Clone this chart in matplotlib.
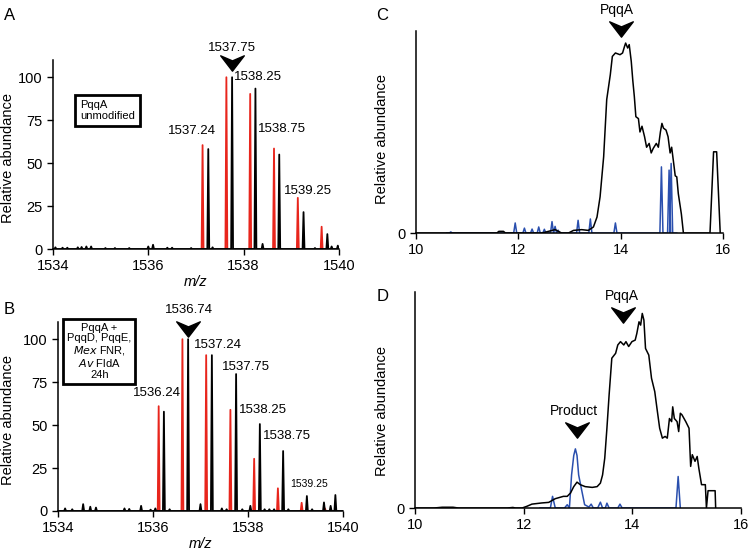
import numpy as np
import matplotlib
matplotlib.use('Agg')
import matplotlib.pyplot as plt
from matplotlib.path import Path

plt.rcParams['font.family'] = ['Liberation Sans', 'DejaVu Sans']
plt.rcParams['font.size'] = 10

RED = '#e8251c'
BLUE = '#2a4fae'

# ---- panel A: m/z peaks (unmodified PqqA)
a_red_mz = [1537.14, 1537.64, 1538.14, 1538.64, 1539.14, 1539.64]
a_red_int = [60.5, 100, 90.3, 58.5, 29.8, 13]
a_blk_mz = [1534.05, 1534.2, 1534.3, 1534.52, 1534.6, 1534.7, 1534.8, 1535.1, 1535.3,
            1535.6, 1536.0, 1536.1, 1536.4, 1536.5, 1536.9, 1537.26, 1537.35, 1537.76,
            1538.25, 1538.4, 1538.75, 1539.26, 1539.5, 1539.76, 1539.85, 1539.98]
a_blk_int = [1, 0.8, 0.8, 1, 1.2, 1.5, 1.5, 0.6, 0.6,
             0.6, 1.5, 2.5, 0.8, 0.8, 0.6, 58.2, 1, 100,
             93.4, 3, 55, 21.5, 0.6, 8.7, 1.5, 2]
a_labels = ['1537.24', '1537.75', '1538.25', '1538.75', '1539.25']

# ---- panel B: m/z peaks (PqqA + PqqD, PqqE, Mex FNR, Av FldA 24h)
b_red_mz = [1536.12, 1536.62, 1537.12, 1537.63, 1538.13, 1538.63, 1539.13, 1539.62]
b_red_int = [61, 100, 90.7, 58.9, 30.4, 13.2, 4.8, 1.5]
b_blk_mz = [1534.15, 1534.3, 1534.53, 1534.68, 1534.8, 1535.4, 1535.5, 1535.75, 1535.95,
            1536.05, 1536.23, 1536.35, 1536.74, 1537.0, 1537.24, 1537.45, 1537.55, 1537.75,
            1537.88, 1538.05, 1538.25, 1538.35, 1538.45, 1538.55, 1538.74, 1538.85, 1539.24,
            1539.35, 1539.6, 1539.74, 1539.84]
b_blk_int = [1.5, 1, 4, 2.5, 2, 1.5, 1.2, 3, 0.8,
             1.5, 57.8, 1, 100, 4, 90.7, 1.5, 1, 79.7,
             1, 3, 50.6, 1, 1, 1, 34.9, 1, 8.7,
             1, 5, 3, 9.3]

# ---- panel C: chromatogram, PqqA alone
c_time = [10.0, 11.58, 11.62, 11.71, 11.75, 12.46, 12.59, 12.72, 12.85, 12.98, 13.08, 13.24,
          13.37, 13.47, 13.54, 13.6, 13.67, 13.73, 13.8, 13.84, 13.9, 13.99, 14.04, 14.08,
          14.1, 14.14, 14.17, 14.21, 14.24, 14.27, 14.3, 14.35, 14.38, 14.42, 14.47, 14.51,
          14.56, 14.6, 14.64, 14.7, 14.74, 14.78, 14.81, 14.84, 14.89, 14.93, 14.97, 15.0,
          15.04, 15.07, 15.1, 15.13, 15.19, 15.23, 15.75, 15.82, 15.88, 15.95]
c_int = [0, 0, 0.9, 0.9, 0, 0, 0.9, 1.8, 0, 0, 1.4, 1.8,
         1.4, 3.2, 8.4, 19, 40, 70, 83, 92.6, 94.4, 93.5, 94.4, 98,
         99.6, 97, 98.8, 90, 80, 71.6, 61, 60, 53, 56, 50.5, 45,
         47, 42, 44.4, 47, 45, 53, 57.5, 55, 54, 50.5, 42, 45,
         36.5, 30, 29.5, 20.7, 10, 0, 0, 42.6, 42.6, 0]
c_blue_t = [10.68, 11.94, 12.12, 12.27, 12.4, 12.51, 12.66, 12.72, 12.78, 13.17, 13.41,
            13.9, 14.8, 14.95, 14.99]
c_blue_i = [0.6, 5.3, 2.6, 2.1, 3.2, 2, 6, 3.5, 1.5, 6.7, 7.4,
            5.3, 34.7, 33, 36.5]

# ---- panel D: chromatogram, full reaction
d_time = [10.0, 10.35, 10.5, 10.7, 10.8, 11.7, 11.8, 11.85, 11.97, 12.06, 12.15, 12.33,
          12.46, 12.58, 12.73, 12.8, 12.86, 12.92, 12.98, 13.04, 13.13, 13.26, 13.35, 13.41,
          13.45, 13.49, 13.53, 13.57, 13.62, 13.69, 13.73, 13.78, 13.84, 13.88, 13.93, 13.99,
          14.05, 14.08, 14.12, 14.15, 14.18, 14.21, 14.24, 14.3, 14.35, 14.41, 14.45, 14.5,
          14.55, 14.6, 14.64, 14.68, 14.72, 14.74, 14.77, 14.82, 14.85, 14.88, 14.91, 14.98,
          15.04, 15.07, 15.1, 15.15, 15.19, 15.22, 15.27, 15.34, 15.36, 15.39, 15.52, 15.53]
d_int = [0, 0, 0.4, 0.4, 0, 0, 0.3, 0, 0, 0.9, 2, 2.6,
         2.9, 4.8, 6, 6, 7.7, 11, 13.3, 12, 11, 10.6, 11, 12.8,
         17, 25.6, 41, 58, 77, 79.5, 83.8, 85.5, 83.8, 85.5, 83, 85.5,
         86.3, 89.7, 95.7, 94, 100, 96.6, 82, 78.6, 66.7, 59.8, 51.3, 41,
         35.9, 36.8, 35.9, 46, 44.4, 52, 46, 44.4, 39.3, 48.7, 47.9, 44.4,
         41, 21.4, 27.4, 24, 26.5, 20.5, 12, 12, 0, 8.9, 8.9, 0]
d_blue_t = [12.3, 12.49, 12.53, 12.58, 12.75, 12.8, 12.84, 12.88, 12.92, 12.95, 12.98,
            13.01, 13.06, 13.12, 13.2, 13.24, 13.28, 13.36, 13.41, 13.45, 13.5, 13.53, 13.57,
            13.73, 13.77, 13.81, 14.8, 14.84, 14.88]
d_blue_i = [0, 0, 6, 0, 0, 1.7, 0, 17, 27, 30.4, 27,
            17, 10, 1.7, 0.5, 2, 0, 0, 3, 0, 0, 2.5, 0,
            0, 2, 0, 0, 16.2, 0]


def stick_profile(mz, inten, start=None, end=None, hw=0.02):
    xs, ys = [], []
    if start is not None:
        xs.append(start); ys.append(0)
    for m, h in sorted(zip(mz, inten)):
        xs += [m - hw, m, m + hw]
        ys += [0, h, 0]
        if start is None:
            xs.append(np.nan); ys.append(np.nan)
    if end is not None:
        xs.append(end); ys.append(0)
    return xs, ys


# arrowhead marker pointing down
chevron = Path([(0, -0.65), (-1, 0.65), (0, 0.22), (1, 0.65), (0, -0.65)],
               [Path.MOVETO, Path.LINETO, Path.LINETO, Path.LINETO, Path.CLOSEPOLY])


def style_axes(ax):
    ax.spines['top'].set_visible(False)
    ax.spines['right'].set_visible(False)
    ax.tick_params(direction='out', length=4, width=1, labelsize=10.5)
    for s in ['left', 'bottom']:
        ax.spines[s].set_linewidth(1.1)


fig = plt.figure(figsize=(7.5, 5.51), dpi=100)
axA = fig.add_axes([0.0707, 0.548, 0.381, 0.343])
axB = fig.add_axes([0.0773, 0.0726, 0.380, 0.343])
axC = fig.add_axes([0.5547, 0.577, 0.409, 0.367])
axD = fig.add_axes([0.5533, 0.078, 0.435, 0.392])

# ---- A
x, y = stick_profile(a_red_mz, a_red_int)
axA.plot(x, y, color=RED, lw=1.3)
x, y = stick_profile(a_blk_mz, a_blk_int, 1534, 1540)
axA.plot(x, y, color='black', lw=1.3)
axA.set_xlim(1534, 1540)
axA.set_ylim(0, 110)
axA.set_xticks([1534, 1536, 1538, 1540])
axA.set_yticks([0, 25, 50, 75, 100])
style_axes(axA)
axA.set_xlabel('m/z', style='italic', fontsize=10.5, labelpad=1)
axA.set_ylabel('Relative abundance', fontsize=10.5)
axA.yaxis.set_label_coords(-0.133, 0.48)
axA.plot([a_blk_mz[17]], [108.5], marker=chevron, ms=17, color='black', clip_on=False)
axA.text(1537.75, 117, a_labels[1], ha='center', va='center', fontsize=9.5)
axA.text(1536.92, 68.6, a_labels[0], ha='center', va='center', fontsize=9.5)
axA.text(1537.80, 100, a_labels[2], ha='left', va='center', fontsize=9.5)
axA.text(1538.80, 70, a_labels[3], ha='center', va='center', fontsize=9.5)
axA.text(1539.35, 33.7, a_labels[4], ha='center', va='center', fontsize=9.5)
axA.text(0.095, 0.735, 'PqqA\nunmodified', transform=axA.transAxes, ha='left', va='center',
         fontsize=8, linespacing=1.1,
         bbox=dict(boxstyle='square,pad=0.45', fc='white', ec='black', lw=2))

# ---- B
x, y = stick_profile(b_red_mz, b_red_int)
axB.plot(x, y, color=RED, lw=1.3)
x, y = stick_profile(b_blk_mz, b_blk_int, 1534, 1540)
axB.plot(x, y, color='black', lw=1.3)
axB.set_xlim(1534, 1540)
axB.set_ylim(0, 110)
axB.set_xticks([1534, 1536, 1538, 1540])
axB.set_yticks([0, 25, 50, 75, 100])
style_axes(axB)
axB.set_xlabel('m/z', style='italic', fontsize=10.5, labelpad=1)
axB.set_ylabel('Relative abundance', fontsize=10.5)
axB.yaxis.set_label_coords(-0.151, 0.48)
axB.plot([b_blk_mz[12]], [106], marker=chevron, ms=17, color='black', clip_on=False)
axB.text(1536.76, 117, '1536.74', ha='center', va='center', fontsize=9.5)
axB.text(1536.08, 68.6, '1536.24', ha='center', va='center', fontsize=9.5)
axB.text(1536.86, 96.5, '1537.24', ha='left', va='center', fontsize=9.5)
axB.text(1537.96, 84, '1537.75', ha='center', va='center', fontsize=9.5)
axB.text(1538.32, 58.7, '1538.25', ha='center', va='center', fontsize=9.5)
axB.text(1538.82, 43.6, '1538.75', ha='center', va='center', fontsize=9.5)
axB.text(1539.28, 15.7, '1539.25', ha='center', va='center', fontsize=7.5)
axB.text(0.145, 0.845, 'PqqA +\nPqqD, PqqE,\n$\\it{Mex}$ FNR,\n$\\it{Av}$ FldA\n24h',
         transform=axB.transAxes, ha='center', va='center', fontsize=8, linespacing=1.05,
         bbox=dict(boxstyle='square,pad=0.35', fc='white', ec='black', lw=2))

# ---- C
x, y = stick_profile(c_blue_t, c_blue_i, 10.6, 15.1, hw=0.03)
axC.plot(x, y, color=BLUE, lw=1.1)
axC.plot(c_time, c_int, color='black', lw=1.1)
axC.set_xlim(10, 16)
axC.set_ylim(0, 106)
axC.set_xticks([10, 12, 14, 16])
axC.set_yticks([0])
style_axes(axC)
axC.set_ylabel('Relative abundance', fontsize=10.5)
axC.yaxis.set_label_coords(-0.088, 0.465)
axC.plot([14.0], [107], marker=chevron, ms=17, color='black', clip_on=False)
axC.text(13.93, 117, 'PqqA', ha='center', va='center', fontsize=10)

# ---- D
axD.plot(d_blue_t, d_blue_i, color=BLUE, lw=1.1)
axD.plot(d_time, d_int, color='black', lw=1.1)
axD.set_xlim(10, 16)
axD.set_ylim(0, 111)
axD.set_xticks([10, 12, 14, 16])
axD.set_yticks([0])
style_axes(axD)
axD.set_ylabel('Relative abundance', fontsize=10.5)
axD.yaxis.set_label_coords(-0.08, 0.45)
axD.plot([13.83], [99], marker=chevron, ms=17, color='black', clip_on=False)
axD.text(13.8, 109, 'PqqA', ha='center', va='center', fontsize=10)
axD.plot([12.98], [40], marker=chevron, ms=17, color='black', clip_on=False)
axD.text(12.93, 49.7, 'Product', ha='center', va='center', fontsize=10)

# panel letters
fig.text(0.005, 0.985, 'A', fontsize=12, va='top')
fig.text(0.005, 0.452, 'B', fontsize=12, va='top')
fig.text(0.502, 0.985, 'C', fontsize=12, va='top')
fig.text(0.502, 0.475, 'D', fontsize=12, va='top')

fig.savefig('out.png', dpi=100)
